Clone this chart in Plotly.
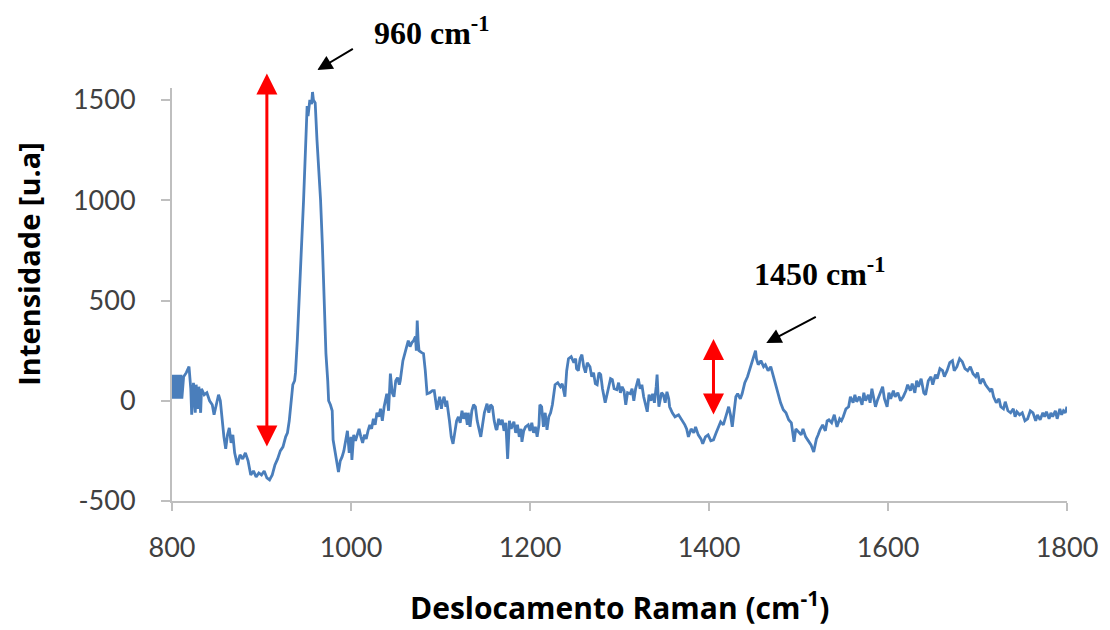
import plotly.graph_objects as go

raman_shift = [
    800, 801, 802, 803, 804, 805, 806, 807, 808, 809, 810, 811, 813, 816, 819, 821, 822, 824, 826, 827,
    829, 830, 832, 833, 836, 839, 842, 845, 847, 850, 852, 854, 856, 858, 860, 862, 864, 866, 868, 870,
    873, 876, 879, 882, 885, 888, 891, 894, 897, 900, 903, 906, 909, 912, 915, 918, 921, 924, 927, 929,
    931, 933, 935, 937, 938, 940, 941, 943, 945, 947, 949, 951, 952, 954, 956, 957, 958, 960, 962, 964,
    966, 968, 969, 971, 972, 974, 975, 977, 979, 980, 982, 984, 986, 988, 990, 992, 994, 996, 998, 1000,
    1001, 1003, 1005, 1007, 1009, 1011, 1013, 1015, 1017, 1019, 1021, 1023, 1025, 1027, 1029, 1031, 1033, 1035, 1037, 1040,
    1042, 1044, 1046, 1048, 1050, 1052, 1054, 1055, 1058, 1061, 1064, 1066, 1068, 1070, 1072, 1073, 1074, 1075, 1076, 1079,
    1081, 1083, 1085, 1088, 1091, 1093, 1095, 1096, 1099, 1101, 1102, 1104, 1106, 1107, 1110, 1112, 1114, 1116, 1118, 1120,
    1122, 1124, 1126, 1128, 1130, 1131, 1133, 1135, 1137, 1139, 1141, 1143, 1145, 1147, 1149, 1151, 1152, 1154, 1156, 1158,
    1160, 1162, 1163, 1165, 1167, 1169, 1171, 1173, 1175, 1177, 1179, 1182, 1184, 1186, 1188, 1190, 1191, 1193, 1195, 1198,
    1200, 1202, 1204, 1206, 1208, 1210, 1211, 1213, 1215, 1217, 1219, 1221, 1223, 1225, 1228, 1231, 1234, 1236, 1238, 1239,
    1241, 1243, 1246, 1249, 1251, 1252, 1254, 1256, 1258, 1260, 1262, 1264, 1267, 1269, 1271, 1273, 1275, 1277, 1279, 1281,
    1284, 1287, 1290, 1292, 1294, 1297, 1299, 1301, 1303, 1305, 1307, 1309, 1312, 1314, 1316, 1318, 1321, 1323, 1325, 1327,
    1329, 1331, 1333, 1335, 1337, 1339, 1341, 1342, 1343, 1344, 1347, 1349, 1351, 1353, 1355, 1356, 1359, 1362, 1366, 1370,
    1373, 1375, 1377, 1380, 1383, 1385, 1388, 1391, 1393, 1396, 1399, 1402, 1405, 1408, 1411, 1413, 1416, 1418, 1420, 1422,
    1424, 1426, 1428, 1430, 1432, 1435, 1437, 1440, 1443, 1446, 1449, 1452, 1453, 1455, 1458, 1461, 1463, 1466, 1469, 1472,
    1475, 1478, 1480, 1483, 1486, 1489, 1492, 1495, 1497, 1500, 1503, 1505, 1508, 1511, 1514, 1517, 1520, 1522, 1524, 1527,
    1530, 1532, 1534, 1537, 1540, 1543, 1546, 1548, 1550, 1553, 1556, 1558, 1561, 1563, 1565, 1568, 1571, 1573, 1575, 1578,
    1580, 1582, 1584, 1586, 1588, 1591, 1594, 1596, 1599, 1601, 1603, 1606, 1608, 1611, 1614, 1617, 1620, 1622, 1625, 1627,
    1630, 1632, 1634, 1637, 1640, 1642, 1645, 1648, 1650, 1653, 1655, 1658, 1661, 1663, 1666, 1669, 1672, 1674, 1677, 1680,
    1683, 1686, 1689, 1692, 1695, 1698, 1700, 1703, 1706, 1709, 1711, 1714, 1716, 1718, 1721, 1724, 1726, 1729, 1731, 1734,
    1737, 1740, 1742, 1744, 1747, 1750, 1753, 1756, 1759, 1762, 1765, 1767, 1770, 1773, 1775, 1777, 1780, 1782, 1784, 1787,
    1789, 1792, 1794, 1796, 1798, 1800]

intensity = [
    130, 10, 130, 10, 130, 10, 130, 10, 130, 10, 130, 10, 120, 140, 170, 60, -70, 90, -60, 80,
    -40, 70, -60, 60, 30, 40, 0, -20, -70, -10, 30, 0, -100, -180, -240, -170, -135, -210, -170, -260,
    -320, -270, -290, -260, -300, -370, -350, -380, -360, -370, -350, -385, -395, -370, -320, -290, -250, -230, -180, -160,
    -100, -10, 80, 100, 140, 300, 415, 600, 800, 1000, 1250, 1470, 1420, 1500, 1480, 1540, 1500, 1485, 1300, 1150,
    1000, 780, 615, 300, 235, 100, 0, -20, -50, -195, -250, -300, -355, -300, -280, -250, -200, -150, -260, -180,
    -295, -170, -200, -165, -140, -180, -210, -170, -190, -150, -120, -140, -90, -120, -60, -80, -40, -100, -30, 35,
    -50, 135, 40, 20, 100, 115, 80, 100, 200, 250, 300, 270, 290, 300, 320, 250, 400, 300, 250, 240,
    235, 150, 35, 40, 50, 50, -20, -45, 20, -40, -10, 20, -30, 0, -100, -180, -215, -150, -100, -80,
    -110, -50, -90, -60, -120, -60, -130, -50, -20, -30, -100, -140, -180, -120, -60, -30, -15, -60, -20, -30,
    -100, -140, -145, -90, -120, -95, -150, -110, -290, -100, -140, -105, -160, -120, -180, -140, -205, -150, -130, -120,
    -150, -110, -160, -130, -180, -120, -20, -30, -130, -60, -145, -80, -60, -20, 80, 90, 70, 85, 40, 20,
    150, 210, 220, 190, 210, 160, 150, 210, 230, 170, 140, 190, 170, 120, 140, 85, 80, 140, 130, 60,
    -10, 60, 110, 105, 60, 55, 90, 40, 70, 50, -20, 40, 35, 60, 0, 60, 110, 60, 80, 20,
    -20, -55, 30, 0, 35, -10, 70, 130, 40, -30, 40, 30, -10, 45, 10, -30, -60, -80, -70, -95,
    -120, -140, -180, -140, -160, -130, -170, -190, -215, -180, -170, -200, -195, -160, -130, -105, -120, -95, -60, -30,
    -70, -130, -40, 20, 35, 10, 35, 90, 120, 160, 200, 250, 210, 180, 200, 170, 180, 150, 170, 120,
    60, 20, -10, -45, -60, -95, -110, -205, -140, -155, -170, -140, -180, -200, -220, -255, -190, -170, -145, -120,
    -150, -100, -95, -110, -70, -130, -90, -100, -80, -40, -30, 20, -10, 30, -5, 20, -20, 40, 0, 30,
    -10, 60, 20, -30, 0, 40, 70, 10, -30, 40, 10, 50, 20, 40, 0, 20, 50, 80, 50, 85,
    40, 100, 70, 110, 40, 30, 100, 120, 80, 130, 110, 160, 150, 120, 150, 190, 200, 150, 170, 210,
    195, 160, 150, 170, 135, 120, 140, 85, 110, 80, 70, 50, 60, 20, -10, 10, -30, -40, -5, -50,
    -60, -40, -80, -55, -70, -60, -100, -90, -50, -60, -100, -70, -95, -60, -80, -55, -90, -60, -80, -50,
    -90, -40, -70, -50, -60, -30]

x_ticks = [800, 1000, 1200, 1400, 1600, 1800]
y_ticks = [-500, 0, 500, 1000, 1500]
y_tick_text = ["-500", "0", "500", "1000", "1500"]

fig = go.Figure()
fig.add_trace(go.Scatter(x=raman_shift, y=intensity, mode="lines",
                         line=dict(color="#4A7EBB", width=2.8), showlegend=False,
                         cliponaxis=False))

axis_font = dict(family="Lato, Open Sans, sans-serif", size=27, color="#404040")
fig.update_layout(
    width=1102, height=622,
    margin=dict(l=164, r=39, t=80, b=129),
    plot_bgcolor="white", paper_bgcolor="white",
    xaxis=dict(range=[800, 1800], tickvals=x_ticks, showgrid=False, zeroline=False,
               showline=True, linecolor="#BFBFBF", linewidth=2,
               ticks="outside", ticklen=8, tickcolor="#BFBFBF", tickwidth=2,
               tickfont=axis_font, ticklabelstandoff=14),
    yaxis=dict(range=[-500, 1560], tickvals=y_ticks, ticktext=y_tick_text, showgrid=False, zeroline=False,
               showline=True, linecolor="#BFBFBF", linewidth=2,
               ticks="outside", ticklen=9, tickcolor="#BFBFBF", tickwidth=2,
               tickfont=axis_font, ticklabelstandoff=20),
)

fig.add_annotation(text="<b>Deslocamento Raman (cm<sup>-1</sup>)</b>", xref="paper", yref="paper",
                   x=0.5, y=-0.255, xanchor="center", yanchor="middle", showarrow=False,
                   font=dict(family="Open Sans, sans-serif", size=30, color="black"))
fig.add_annotation(text="<b>Intensidade [u.a]</b>", xref="paper", yref="paper",
                   x=-0.16, y=0.574, xanchor="center", yanchor="middle", showarrow=False,
                   textangle=-90, font=dict(family="Open Sans, sans-serif", size=29, color="black"))

# Red double arrows
for (xa, y0, y1) in [(906, -236, 1632), (1405, -76, 308)]:
    fig.add_annotation(x=xa, y=y1, ax=xa, ay=y0, xref="x", yref="y", axref="x", ayref="y",
                       text="", showarrow=True, arrowhead=2, arrowside="end+start",
                       arrowsize=1.4, arrowwidth=3, arrowcolor="#FF0000")

# Black arrows and labels
label_font = dict(family="Liberation Serif, Times New Roman, serif", size=32, color="black")
fig.add_annotation(x=962.4, y=1.0436, xref="x", yref="paper", ax=37, ay=-22,
                   text="", showarrow=True, arrowhead=2, arrowsize=1.5, arrowwidth=2, arrowcolor="black")
fig.add_annotation(x=1023, y=1.137, xref="x", yref="paper", text="<b>960 cm<sup>-1</sup></b>",
                   showarrow=False, xanchor="left", yanchor="middle", font=label_font)
fig.add_annotation(x=1464, y=288, ax=1521, ay=422, xref="x", yref="y", axref="x", ayref="y",
                   text="", showarrow=True, arrowhead=2, arrowsize=1.5, arrowwidth=2, arrowcolor="black")
fig.add_annotation(x=1448, y=640, xref="x", yref="y", text="<b>1450 cm<sup>-1</sup></b>",
                   showarrow=False, xanchor="left", yanchor="middle", font=label_font,
                   bgcolor="white")

fig.write_html("out.html")
